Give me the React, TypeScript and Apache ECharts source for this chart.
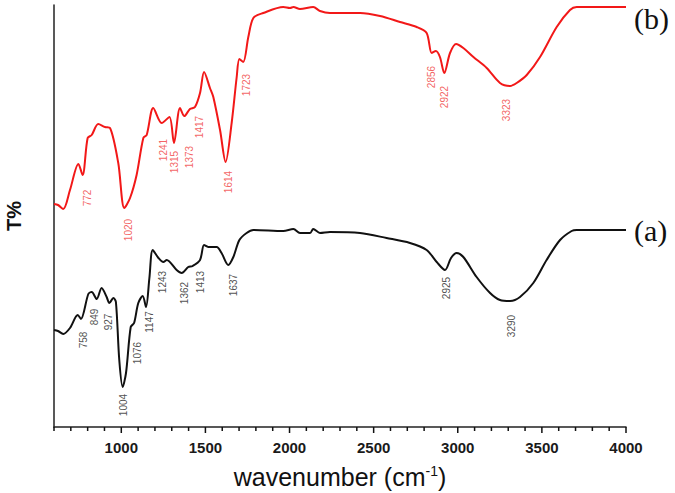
import React, { useEffect, useRef } from "react";
import * as echarts from "echarts";

// Spectrum (b) — red
const wavenumberB = [600, 624, 655, 695, 745, 770, 800, 824, 863, 903, 933, 982, 1018, 1052, 1091, 1131, 1151, 1190, 1240, 1286, 1313, 1349, 1375, 1408, 1438, 1468, 1492, 1527, 1547, 1587, 1620, 1656, 1686, 1702, 1725, 1755, 1785, 1844, 1963, 2003, 2023, 2062, 2141, 2181, 2240, 2320, 2419, 2538, 2657, 2756, 2815, 2845, 2870, 2894, 2920, 2954, 2990, 3033, 3093, 3172, 3251, 3311, 3350, 3410, 3489, 3588, 3667, 3707, 4000];
const transmB = [223, 222, 218, 237, 263, 252, 289, 292, 303, 300, 299, 264, 219, 229, 252, 289, 292, 319, 304, 310, 284, 319, 311, 318, 320, 334, 355, 339, 330, 297, 265, 304, 350, 368, 365, 390, 409, 414, 420, 419, 420, 418, 420, 416, 414, 414, 414, 411, 405, 400, 394, 374, 376, 370, 354, 374, 383, 379, 370, 359, 344, 341, 344, 352, 370, 400, 417, 420, 420];

// Spectrum (a) — black
const wavenumberA = [600, 624, 655, 695, 741, 760, 804, 824, 854, 883, 913, 929, 953, 968, 988, 1008, 1028, 1056, 1076, 1101, 1127, 1147, 1167, 1187, 1221, 1250, 1270, 1329, 1359, 1398, 1424, 1468, 1492, 1517, 1567, 1596, 1636, 1666, 1702, 1745, 1785, 1963, 2023, 2062, 2122, 2141, 2181, 2240, 2419, 2577, 2716, 2815, 2875, 2924, 2960, 2993, 3033, 3112, 3192, 3251, 3311, 3370, 3449, 3528, 3608, 3677, 3707, 4000];
const transmA = [97, 96, 93, 99, 112, 108, 133, 135, 128, 139, 130, 124, 129, 125, 67, 40, 54, 100, 104, 124, 131, 120, 149, 177, 169, 165, 167, 157, 154, 160, 161, 167, 182, 180, 180, 174, 162, 170, 187, 194, 197, 196, 198, 194, 194, 198, 194, 195, 194, 189, 184, 177, 165, 157, 169, 174, 170, 150, 134, 127, 126, 130, 144, 167, 187, 196, 197, 197];

// Peak annotations (text, label x, label y)
const peakTextB = ["772", "1020", "1241", "1315", "1373", "1417", "1614", "1723", "2856", "2922", "3323"];
const peakXB = [798, 1040, 1250, 1319, 1408, 1462, 1636, 1745, 2845, 2924, 3291];
const peakYB = [229, 197, 277, 265, 270, 300, 245, 342, 350, 330, 317];

const peakTextA = ["758", "849", "927", "1004", "1076", "1147", "1243", "1362", "1413", "1637", "2925", "3290"];
const peakXA = [774, 840, 923, 1012, 1095, 1165, 1244, 1375, 1468, 1666, 2934, 3321];
const peakYA = [87, 110, 105, 22, 74, 105, 145, 134, 145, 142, 139, 101];

// Tick positions: every 100 cm-1 from 600 to 4000, labelled every 500
const tickNumbers = Array.from({ length: 35 }, (_, i) => 600 + i * 100);
const tickValues = tickNumbers.map(String);
const isMajor = (v: string | number) => Number(v) % 500 === 0;

export default function App() {
  const ref = useRef<HTMLDivElement>(null);
  useEffect(() => {
    if (!ref.current) return;
    const chart = echarts.init(ref.current, null, { renderer: "svg" });
    const pts = (xs: number[], ys: number[]) => xs.map((x, i) => [x, ys[i]]);
    const labelPts = (xs: number[], ys: number[], t: string[]) => xs.map((x, i) => [x, ys[i], t[i]]);
    const font = "Liberation Sans, Arial, sans-serif";
    const peakSeries = (data: any[], color: string) => ({
      type: "scatter",
      xAxisIndex: 0,
      data,
      symbolSize: 1,
      itemStyle: { color: "transparent" },
      silent: true,
      label: {
        show: true,
        position: "inside",
        rotate: 90,
        fontSize: 10,
        fontFamily: font,
        color,
        formatter: (p: any) => p.data[2],
      },
    });
    chart.setOption({
      animation: false,
      backgroundColor: "#fff",
      grid: { left: 54, right: 49, top: 5, bottom: 66, containLabel: false, outerBoundsMode: "none" },
      xAxis: [
        {
          type: "value",
          min: 600,
          max: 4000,
          interval: 100,
          position: "bottom",
          axisLine: { show: true, onZero: false, lineStyle: { color: "#222", width: 1.5 } },
          axisTick: { show: false },
          axisLabel: { show: false },
          splitLine: { show: false },
        },
        {
          type: "category",
          data: tickValues,
          boundaryGap: false,
          position: "bottom",
          axisLine: { show: false, onZero: false },
          axisTick: { show: false },
          axisLabel: {
            interval: (_i: number, v: string) => isMajor(v),
            fontSize: 15,
            fontWeight: "bold",
            color: "#1a1a1a",
            margin: 13,
            fontFamily: font,
          },
          splitLine: { show: false },
          name: "{n|wavenumber (cm}{s|-1}{n|)}",
          nameLocation: "middle",
          nameGap: 37,
          nameTextStyle: {
            rich: {
              n: { fontSize: 25, color: "#111", fontFamily: font },
              s: { fontSize: 14, color: "#111", fontFamily: font, verticalAlign: "top", padding: [0, 0, 9, 0] },
            },
          },
        },
      ],
      yAxis: {
        type: "value",
        min: 0,
        max: 422,
        axisLine: { show: true, onZero: false, lineStyle: { color: "#222", width: 1.5 } },
        axisTick: { show: false },
        axisLabel: { show: false },
        splitLine: { show: false },
        name: "T%",
        nameLocation: "middle",
        nameRotate: 90,
        nameGap: 30,
        nameTextStyle: { fontSize: 20, fontWeight: "bold", color: "#111", fontFamily: font },
      },
      series: [
        {
          type: "line",
          xAxisIndex: 0,
          data: pts(wavenumberB, transmB),
          showSymbol: false,
          smooth: 0.3,
          lineStyle: { color: "#f21818", width: 2 },
          endLabel: {
            show: true,
            formatter: "(b)",
            fontSize: 30,
            fontFamily: "Liberation Serif, Times New Roman, serif",
            color: "#111",
            distance: 8,
            offset: [0, 11],
          },
        },
        {
          type: "line",
          xAxisIndex: 0,
          data: pts(wavenumberA, transmA),
          showSymbol: false,
          smooth: 0.3,
          lineStyle: { color: "#111", width: 2 },
          endLabel: {
            show: true,
            formatter: "(a)",
            fontSize: 30,
            fontFamily: "Liberation Serif, Times New Roman, serif",
            color: "#111",
            distance: 8,
            offset: [0, 0],
          },
        },
        peakSeries(labelPts(peakXB, peakYB, peakTextB), "#f03a3a"),
        peakSeries(labelPts(peakXA, peakYA, peakTextA), "#222"),
      ],
    });
    // Tick marks below the x axis, positioned through the axis scale
    const tickGraphics = tickNumbers.map((v) => {
      const p = chart.convertToPixel({ xAxisIndex: 0, yAxisIndex: 0 }, [v, 0]) as number[];
      const len = isMajor(v) ? 6 : 4;
      return {
        type: "line",
        silent: true,
        z: 100,
        shape: { x1: p[0], y1: p[1], x2: p[0], y2: p[1] + len },
        style: { stroke: "#111", lineWidth: 1.5 },
      };
    });
    chart.setOption({ graphic: tickGraphics });
    return () => chart.dispose();
  }, []);
  return <div ref={ref} style={{ position: "absolute", left: 0, top: 0, width: 675, height: 493 }} />;
}
